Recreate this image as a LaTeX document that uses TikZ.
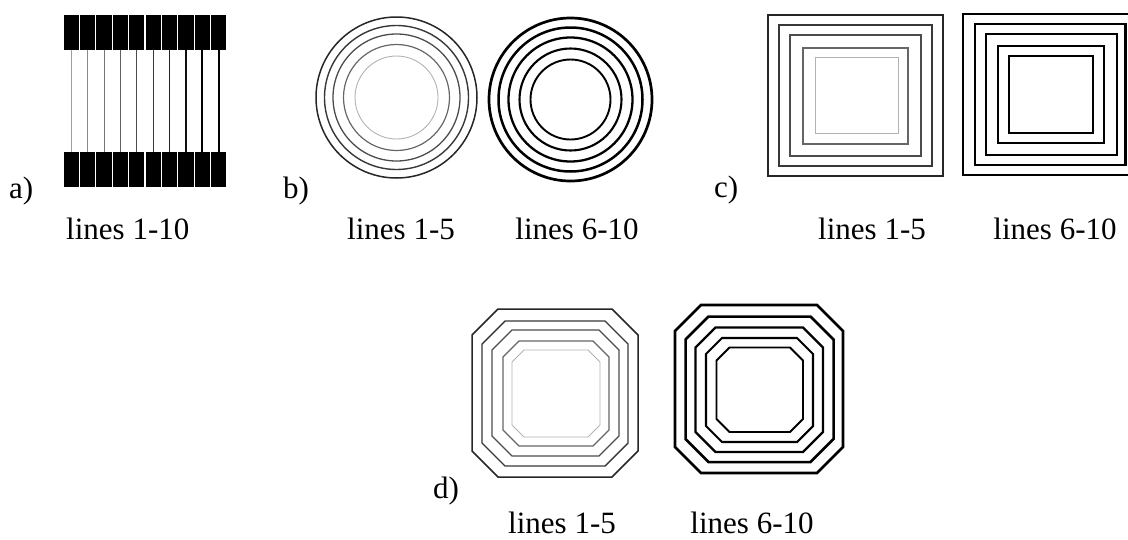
\documentclass[tikz,border=0pt]{standalone}
\usepackage{fontspec}
\setmainfont{Liberation Serif}
\newcommand{\octdraw}[6]{%
  \draw[#1] ({#2+#6},#3) -- ({#4-#6},#3) -- (#4,{#3+#6}) -- (#4,{#5-#6})
    -- ({#4-#6},#5) -- ({#2+#6},#5) -- (#2,{#5-#6}) -- (#2,{#3+#6}) -- cycle;}
\begin{document}
\begin{tikzpicture}[x=1pt,y=-1pt,
  lbl/.style={inner sep=0pt,font=\fontsize{31}{36}\selectfont},
  thinA/.style={line width=0.9pt,draw=black!30},
  thinB/.style={line width=1.2pt,draw=black!60},
  thinC/.style={line width=1.3pt,draw=black!70},
  thinD/.style={line width=1.4pt,draw=black!78},
  thinE/.style={line width=1.5pt,draw=black!85},
  thickA/.style={line width=1.9pt,draw=black},
  thickB/.style={line width=2.1pt,draw=black},
  thickC/.style={line width=2.3pt,draw=black},
  thickD/.style={line width=2.5pt,draw=black},
  thickE/.style={line width=2.7pt,draw=black},
  blk/.style={fill=black,draw=none}]
\useasboundingbox (0,0) rectangle (1128,539);
% ---------- a) ----------
\foreach \k in {1,...,10}{
  \fill[blk] ({63+16.4*(\k-1)+0.6},15) rectangle ({63+16.4*\k-0.6},50);
  \fill[blk] ({63+16.4*(\k-1)+0.6},152) rectangle ({63+16.4*\k-0.6},187);
  \pgfmathsetmacro{\lw}{0.2+0.2*\k}
  \pgfmathtruncatemacro{\shade}{min(100,30+8*\k)}
  \draw[line width=\lw pt,draw=black!\shade] ({63+16.4*(\k-0.5)},50) -- ({63+16.4*(\k-0.5)},152);
}
\node[lbl,anchor=base west] (la) at (9,198) {a)};
\node[lbl,anchor=base west] (ta) at (66,239) {lines 1-10};
% ---------- b) ----------
\draw[thinE] (396.5,97.5) circle (80.5);
\draw[thinD] (396.5,97.5) circle (72);
\draw[thinC] (396.5,97.5) circle (63.5);
\draw[thinB] (396.5,97.5) circle (53);
\draw[thinA] (396.5,97.5) circle (41.5);
\draw[thickE] (570.5,99.5) circle (81.5);
\draw[thickD] (570.5,99.5) circle (72);
\draw[thickC] (570.5,99.5) circle (62);
\draw[thickB] (570.5,99.5) circle (51);
\draw[thickA] (570.5,99.5) circle (40);
\node[lbl,anchor=base west] (lb) at (283,198) {b)};
\node[lbl,anchor=base] (tb1) at (401,239) {lines 1-5};
\node[lbl,anchor=base] (tb2) at (577,239) {lines 6-10};
% ---------- c) ----------
\draw[thinE] (768,15) rectangle (943,176);
\draw[thinD] (779,25) rectangle (932,166);
\draw[thinC] (790,35) rectangle (921,156);
\draw[thinB] (803,48) rectangle (908,144);
\draw[thinA] (815,57) rectangle (898,133);
\draw[thickE] (1128,14) -- (963,14) -- (963,175) -- (1128,175);
\draw[thickD] (975,24) rectangle (1125.5,165);
\draw[thickC] (986,34) rectangle (1117,155);
\draw[thickB] (998,46) rectangle (1104,143);
\draw[thickA] (1009,56) rectangle (1093,133);
\node[lbl,anchor=base west] (lc) at (714,197) {c)};
\node[lbl,anchor=base] (tc1) at (872,239) {lines 1-5};
\node[lbl,anchor=base] (tc2) at (1055,239) {lines 6-10};
% ---------- d) ----------
\octdraw{thinE}{472}{309}{638}{477}{26}
\octdraw{thinD}{482}{321}{628}{466}{23}
\octdraw{thinC}{492}{330}{619}{456}{20}
\octdraw{thinB}{503}{341}{609}{446}{16}
\octdraw{thinA}{512}{350}{600}{437}{12}
\octdraw{thickE}{675}{305}{843}{473}{26}
\octdraw{thickD}{685.5}{316.5}{833.5}{462}{23}
\octdraw{thickC}{695.5}{327.5}{823}{452}{20}
\octdraw{thickB}{706}{338}{813}{442}{16}
\octdraw{thickA}{716.5}{347.5}{803}{432}{13}
\node[lbl,anchor=base west] (ld) at (433,498) {d)};
\node[lbl,anchor=base] (td1) at (562,533) {lines 1-5};
\node[lbl,anchor=base] (td2) at (752,533) {lines 6-10};
\end{tikzpicture}
\end{document}
